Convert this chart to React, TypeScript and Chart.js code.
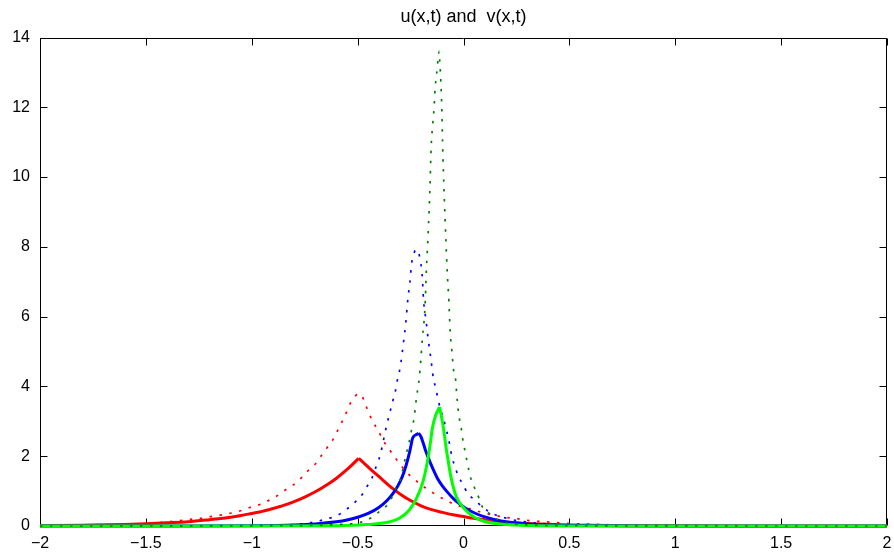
import React, { useEffect, useRef } from 'react';
import { Chart, registerables } from 'chart.js';

Chart.register(...registerables);

const TITLE = 'u(x,t) and  v(x,t)';
const X_MIN = -2;
const X_MAX = 2;
const X_STEP = 0.5;
const Y_MIN = 0;
const Y_MAX = 14;
const Y_STEP = 2;

// u1 (red, solid)
const u1X = [-2, -1.8, -1.6, -1.5, -1.4, -1.3, -1.2, -1.1, -1.05, -1.0, -0.95, -0.9, -0.85, -0.8, -0.75, -0.7, -0.65, -0.6, -0.55, -0.495, -0.47, -0.44, -0.4, -0.35, -0.3, -0.25, -0.2, -0.15, -0.1, -0.05, 0, 0.05, 0.1, 0.15, 0.2, 0.3, 0.4, 0.5, 0.6, 0.8, 1.0, 1.5, 2];
const u1Y = [0.01, 0.025, 0.045, 0.065, 0.09, 0.12, 0.18, 0.25, 0.30, 0.36, 0.42, 0.50, 0.59, 0.70, 0.83, 0.98, 1.16, 1.37, 1.62, 1.94, 1.80, 1.63, 1.42, 1.15, 0.92, 0.73, 0.58, 0.47, 0.39, 0.32, 0.27, 0.22, 0.18, 0.14, 0.11, 0.07, 0.05, 0.03, 0.02, 0.01, 0.005, 0.002, 0];

// v1 (red, dotted)
const v1X = [-2, -1.8, -1.6, -1.5, -1.4, -1.29, -1.243, -1.196, -1.148, -1.105, -1.057, -1.01, -0.968, -0.924, -0.882, -0.842, -0.806, -0.767, -0.735, -0.701, -0.672, -0.646, -0.618, -0.596, -0.575, -0.555, -0.536, -0.507, -0.495, -0.484, -0.464, -0.448, -0.426, -0.401, -0.382, -0.354, -0.327, -0.299, -0.272, -0.238, -0.198, -0.159, -0.12, -0.076, -0.036, 0.011, 0.058, 0.105, 0.15, 0.196, 0.243, 0.29, 0.337, 0.384, 0.43, 0.5, 0.6, 0.8, 1.0, 1.5, 2];
const v1Y = [0.01, 0.02, 0.05, 0.07, 0.12, 0.19, 0.22, 0.27, 0.31, 0.36, 0.43, 0.53, 0.60, 0.72, 0.86, 1.03, 1.17, 1.37, 1.58, 1.77, 2.01, 2.23, 2.46, 2.72, 2.97, 3.23, 3.50, 3.75, 3.79, 3.77, 3.50, 3.25, 2.97, 2.72, 2.48, 2.23, 1.99, 1.77, 1.56, 1.37, 1.17, 1.01, 0.86, 0.72, 0.60, 0.53, 0.44, 0.36, 0.30, 0.25, 0.22, 0.17, 0.14, 0.12, 0.10, 0.07, 0.05, 0.02, 0.01, 0.003, 0];

// u2 (blue, solid)
const u2X = [-2, -1.5, -1.0, -0.8, -0.7, -0.6, -0.55, -0.5, -0.45, -0.4, -0.36, -0.33, -0.31, -0.29, -0.272, -0.256, -0.25, -0.24, -0.22, -0.212, -0.2, -0.18, -0.16, -0.14, -0.12, -0.1, -0.08, -0.05, -0.02, 0.01, 0.05, 0.1, 0.15, 0.2, 0.3, 0.4, 0.5, 0.7, 1.0, 2];
const u2Y = [0, 0.002, 0.01, 0.03, 0.06, 0.12, 0.17, 0.25, 0.36, 0.53, 0.74, 0.96, 1.15, 1.40, 1.72, 2.08, 2.25, 2.52, 2.63, 2.66, 2.55, 2.18, 1.86, 1.58, 1.33, 1.15, 1.0, 0.80, 0.64, 0.51, 0.38, 0.26, 0.18, 0.12, 0.06, 0.03, 0.015, 0.005, 0.002, 0];

// v2 (blue, dotted)
const v2X = [-2, -1.2, -1.0, -0.9, -0.8, -0.75, -0.7, -0.65, -0.6, -0.55, -0.513, -0.48, -0.456, -0.432, -0.417, -0.4, -0.385, -0.369, -0.358, -0.347, -0.335, -0.322, -0.314, -0.303, -0.295, -0.283, -0.272, -0.264, -0.253, -0.244, -0.232, -0.219, -0.205, -0.198, -0.194, -0.189, -0.178, -0.167, -0.154, -0.142, -0.131, -0.121, -0.11, -0.095, -0.083, -0.071, -0.063, -0.055, -0.04, -0.025, -0.002, 0.018, 0.055, 0.089, 0.129, 0.176, 0.223, 0.26, 0.35, 0.5, 0.7, 1.0, 2];
const v2Y = [0, 0.005, 0.01, 0.02, 0.04, 0.07, 0.12, 0.2, 0.29, 0.49, 0.68, 0.89, 1.13, 1.38, 1.63, 1.9, 2.25, 2.72, 3.01, 3.27, 3.56, 3.85, 4.13, 4.42, 4.71, 5.28, 5.85, 6.43, 7.0, 7.57, 7.85, 7.92, 7.65, 7.36, 7.08, 6.5, 5.94, 5.37, 4.79, 4.22, 3.95, 3.66, 3.37, 3.09, 2.80, 2.51, 2.25, 1.99, 1.70, 1.43, 1.19, 0.95, 0.74, 0.55, 0.38, 0.27, 0.19, 0.15, 0.08, 0.03, 0.01, 0.003, 0];

// u3 (green, solid)
const u3X = [-2, -1.0, -0.6, -0.46, -0.366, -0.303, -0.256, -0.222, -0.194, -0.175, -0.159, -0.147, -0.131, -0.113, -0.1, -0.09, -0.08, -0.07, -0.06, -0.04, -0.02, 0.0, 0.025, 0.05, 0.075, 0.1, 0.15, 0.2, 0.3, 0.5, 1.0, 2];
const u3Y = [0, 0.001, 0.01, 0.04, 0.1, 0.22, 0.46, 0.79, 1.22, 1.70, 2.27, 2.80, 3.18, 3.41, 3.0, 2.6, 2.15, 1.78, 1.43, 0.94, 0.68, 0.52, 0.37, 0.26, 0.18, 0.13, 0.07, 0.04, 0.015, 0.003, 0.001, 0];

// v3 (green, dotted)
const v3X = [-2, -0.8, -0.6, -0.49, -0.44, -0.398, -0.358, -0.335, -0.316, -0.295, -0.285, -0.275, -0.264, -0.253, -0.244, -0.233, -0.228, -0.222, -0.215, -0.209, -0.201, -0.194, -0.182, -0.175, -0.168, -0.162, -0.157, -0.153, -0.147, -0.139, -0.134, -0.129, -0.124, -0.12, -0.115, -0.112, -0.107, -0.102, -0.099, -0.095, -0.09, -0.083, -0.077, -0.069, -0.063, -0.055, -0.046, -0.036, -0.033, -0.029, -0.024, -0.017, -0.008, -0.002, 0.008, 0.016, 0.026, 0.037, 0.055, 0.074, 0.089, 0.121, 0.16, 0.2, 0.3, 0.5, 1.0, 2];
const v3Y = [0, 0.01, 0.04, 0.1, 0.22, 0.41, 0.62, 0.86, 1.13, 1.38, 1.67, 1.94, 2.23, 2.51, 2.80, 3.10, 3.37, 3.68, 3.97, 4.24, 4.81, 5.39, 6.25, 7.39, 8.25, 9.11, 9.97, 10.83, 11.40, 11.98, 12.55, 12.84, 13.12, 13.41, 13.6, 13.31, 12.74, 11.88, 11.02, 10.16, 9.30, 8.16, 7.30, 6.44, 5.58, 5.01, 4.43, 4.13, 3.85, 3.56, 3.27, 2.99, 2.70, 2.42, 2.13, 1.87, 1.58, 1.32, 1.05, 0.79, 0.55, 0.36, 0.19, 0.10, 0.03, 0.01, 0.002, 0];

const FONT = "'Liberation Sans', Arial, Helvetica, sans-serif";

const pts = (xs: number[], ys: number[]) => xs.map((x, i) => ({ x, y: ys[i] }));

// split a cusp-shaped curve into its two monotone branches at the maximum
const branches = (xs: number[], ys: number[]) => {
  let k = 0;
  ys.forEach((y, i) => { if (y > ys[k]) k = i; });
  return [pts(xs.slice(0, k + 1), ys.slice(0, k + 1)), pts(xs.slice(k), ys.slice(k))];
};

const framePlugin = {
  id: 'frame',
  beforeDatasetsDraw(chart: any) {
    const { ctx, chartArea: a, scales } = chart;
    const xs = scales.x;
    const ys = scales.y;
    const L = 7;
    ctx.save();
    ctx.strokeStyle = '#000';
    ctx.lineWidth = 1;
    const left = Math.round(a.left) + 0.5;
    const right = Math.round(a.right) - 0.5;
    const top = Math.round(a.top) + 0.5;
    const bottom = Math.round(a.bottom) - 0.5;
    ctx.beginPath();
    ctx.rect(left, top, right - left, bottom - top);
    xs.ticks.forEach((t: any) => {
      const p = Math.round(xs.getPixelForValue(t.value)) + 0.5;
      ctx.moveTo(p, bottom);
      ctx.lineTo(p, bottom - L);
      ctx.moveTo(p, top);
      ctx.lineTo(p, top + L);
    });
    ys.ticks.forEach((t: any) => {
      const p = Math.round(ys.getPixelForValue(t.value)) + 0.5;
      ctx.moveTo(left, p);
      ctx.lineTo(left + L, p);
      ctx.moveTo(right, p);
      ctx.lineTo(right - L, p);
    });
    ctx.stroke();
    ctx.restore();
  },
};

export default function App() {
  const ref = useRef<HTMLCanvasElement | null>(null);

  useEffect(() => {
    document.body.style.margin = '0';
    const canvas = ref.current;
    if (!canvas) return;
    const solid = (xs: number[], ys: number[], color: string, order: number) =>
      branches(xs, ys).map((data) => ({
        data,
        borderColor: color,
        backgroundColor: color,
        borderWidth: 3,
        pointRadius: 0,
        cubicInterpolationMode: 'monotone',
        fill: false,
        clip: 5,
        order,
      }));
    const dotted = (xs: number[], ys: number[], color: string, order: number) => [{
      data: pts(xs, ys),
      borderColor: color,
      backgroundColor: color,
      borderWidth: 1.7,
      borderDash: [2.5, 7.5],
      pointRadius: 0,
      cubicInterpolationMode: 'monotone',
      fill: false,
      clip: 5,
      order,
    }];
    const chart = new Chart(canvas, {
      type: 'line',
      data: {
        datasets: [
          ...solid(u1X, u1Y, '#ff0000', 5),
          ...dotted(v1X, v1Y, '#ff0000', 4),
          ...solid(u2X, u2Y, '#0000ff', 3),
          ...dotted(v2X, v2Y, '#0000ff', 2),
          ...solid(u3X, u3Y, '#00ff00', 1),
          ...dotted(v3X, v3Y, '#008000', 0),
        ] as any,
      },
      options: {
        animation: false,
        responsive: true,
        maintainAspectRatio: false,
        layout: { padding: { left: 0, right: 0, top: 0, bottom: 0 } },
        plugins: {
          legend: { display: false },
          tooltip: { enabled: false },
          title: {
            display: true,
            fullSize: false,
            text: TITLE,
            color: '#000',
            font: { family: FONT, size: 18, weight: 'normal' },
            padding: { top: 6, bottom: 9.9 },
          },
        },
        scales: {
          x: {
            type: 'linear',
            min: X_MIN,
            max: X_MAX,
            grid: { display: false, drawTicks: false },
            border: { display: false },
            ticks: {
              stepSize: X_STEP,
              color: '#000',
              font: { family: FONT, size: 16 },
              padding: 8,
              maxRotation: 0,
              autoSkip: false,
              callback: (v: any) => String(Number(v)).replace('-', '\u2212'),
            },
            afterFit: (s: any) => { s.height = 27; s.paddingRight = 7; s.paddingLeft = 0; },
          },
          y: {
            type: 'linear',
            min: Y_MIN,
            max: Y_MAX,
            grid: { display: false, drawTicks: false },
            border: { display: false },
            ticks: {
              stepSize: Y_STEP,
              color: '#000',
              font: { family: FONT, size: 16 },
              padding: 10,
              autoSkip: false,
              callback: (v: any) => String(Number(v)),
            },
            afterFit: (s: any) => { s.width = 40; },
          },
        },
      } as any,
      plugins: [framePlugin],
    });
    return () => chart.destroy();
  }, []);

  return (
    <div style={{ position: 'absolute', left: 0, top: 0, width: 894, height: 553, background: '#fff' }}>
      <canvas ref={ref} />
    </div>
  );
}
